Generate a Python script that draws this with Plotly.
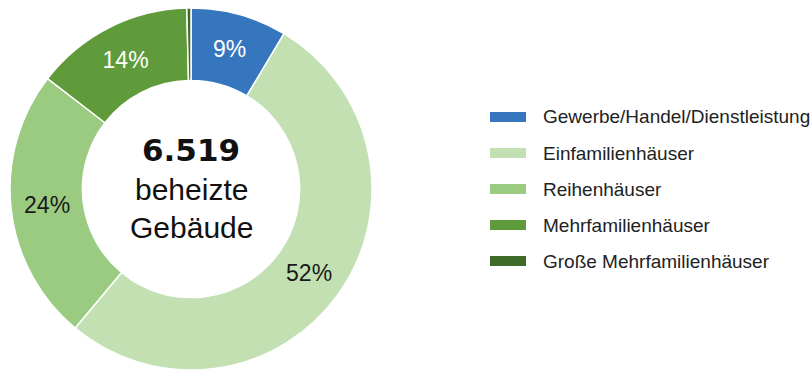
import plotly.graph_objects as go

categories = ["Gewerbe/Handel/Dienstleistung", "Einfamilienhäuser", "Reihenhäuser",
              "Mehrfamilienhäuser", "Große Mehrfamilienhäuser"]
counts = [560, 3420, 1590, 925, 24]
colors = ["#3676be", "#c3e0b2", "#9bcb80", "#5f9b3b", "#3e6b28"]
label_colors = ["white", "#1a1a1a", "#1a1a1a", "white", "white"]
show_label = [True, True, True, True, False]
total_label = "6.519"
center_lines = ["beheizte", "Gebäude"]

W, H = 812, 370
top_margin = 8

fig = go.Figure()
fig.add_trace(go.Pie(
    labels=categories,
    values=counts,
    hole=0.6,
    sort=False,
    direction="clockwise",
    rotation=0,
    marker=dict(colors=colors, line=dict(color="white", width=1.5)),
    texttemplate=["%{percent:.0%}" if s else "" for s in show_label],
    textposition="inside",
    insidetextorientation="horizontal",
    textfont=dict(family="Liberation Sans, Arial, sans-serif", size=23, color=label_colors),
    domain=dict(x=[10 / W, 372 / W], y=[0, 1]),
    showlegend=False,
    hoverinfo="label+value+percent",
))

def py(ypx):
    return (H - ypx) / (H - top_margin)

cx = 191 / W
annotations = [
    dict(x=cx, y=py(150), xref="paper", yref="paper", text="<b>" + total_label + "</b>",
         showarrow=False, font=dict(family="DejaVu Sans, Verdana, sans-serif", size=31, color="#111"),
         xanchor="center", yanchor="middle"),
]
for i, t in enumerate(center_lines):
    annotations.append(dict(x=cx, y=py(190 + 37 * i), xref="paper", yref="paper", text=t,
                            showarrow=False,
                            font=dict(family="Liberation Sans, Arial, sans-serif", size=30, color="#111"),
                            xanchor="center", yanchor="middle"))

shapes = []
leg_x0, leg_x1, text_x = 490, 526, 541
leg_y0, leg_dy = 117, 36
for i, (cat, col) in enumerate(zip(categories, colors)):
    yc = leg_y0 + leg_dy * i
    shapes.append(dict(type="rect", xref="paper", yref="paper",
                       x0=leg_x0 / W, x1=leg_x1 / W, y0=py(yc + 5), y1=py(yc - 5),
                       fillcolor=col, line=dict(width=0)))
    annotations.append(dict(x=text_x / W, y=py(yc), xref="paper", yref="paper", text=cat,
                            showarrow=False, xanchor="left", yanchor="middle",
                            font=dict(family="Liberation Sans, Arial, sans-serif", size=19, color="#222")))

fig.update_layout(
    width=W, height=H,
    margin=dict(l=0, r=0, t=top_margin, b=0),
    paper_bgcolor="white", plot_bgcolor="white",
    annotations=annotations, shapes=shapes,
)
fig.write_html("out.html")
